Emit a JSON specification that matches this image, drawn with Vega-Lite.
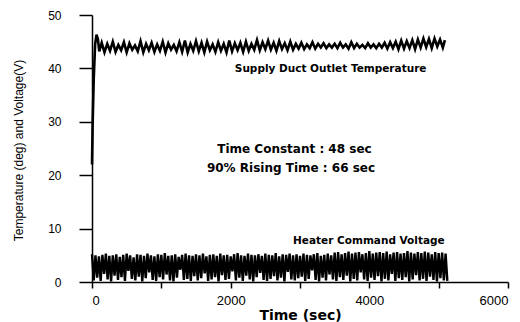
{
  "$schema": "https://vega.github.io/schema/vega-lite/v6.json",
  "width": 416,
  "height": 267,
  "autosize": "none",
  "padding": {"left": 92, "top": 15, "right": 12, "bottom": 40},
  "background": "white",
  "config": {
    "view": {"stroke": null},
    "font": "Liberation Sans",
    "axis": {"grid": false, "domainColor": "black", "tickColor": "black", "labelColor": "black", "titleColor": "black", "domainWidth": 1.5, "tickWidth": 1.5}
  },
  "datasets": {
    "volt": [
      {"t":0,"v":5.2},{"t":25,"v":0.3},{"t":50,"v":5.0},{"t":75,"v":0.8},{"t":100,"v":4.8},{"t":125,"v":0.2},{"t":150,"v":5.1},{"t":175,"v":1.5},{"t":200,"v":5.3},{"t":225,"v":0.5},
      {"t":250,"v":4.9},{"t":275,"v":0.1},{"t":300,"v":5.0},{"t":325,"v":1.2},{"t":350,"v":5.2},{"t":375,"v":0.4},{"t":400,"v":4.7},{"t":425,"v":0.9},{"t":450,"v":5.1},{"t":475,"v":0.2},
      {"t":500,"v":5.3},{"t":525,"v":2.1},{"t":550,"v":5.0},{"t":575,"v":0.6},{"t":600,"v":4.6},{"t":625,"v":0.3},{"t":650,"v":5.2},{"t":675,"v":1.0},{"t":700,"v":5.1},{"t":725,"v":0.1},
      {"t":750,"v":4.9},{"t":775,"v":0.7},{"t":800,"v":5.3},{"t":825,"v":1.8},{"t":850,"v":5.0},{"t":875,"v":0.4},{"t":900,"v":4.8},{"t":925,"v":0.2},{"t":950,"v":5.2},{"t":975,"v":0.9},
      {"t":1000,"v":5.1},{"t":1025,"v":0.5},{"t":1050,"v":5.4},{"t":1075,"v":1.4},{"t":1100,"v":4.9},{"t":1125,"v":0.3},{"t":1150,"v":5.0},{"t":1175,"v":0.1},{"t":1200,"v":5.2},{"t":1225,"v":0.8},
      {"t":1250,"v":4.7},{"t":1275,"v":2.3},{"t":1300,"v":5.1},{"t":1325,"v":0.4},{"t":1350,"v":5.3},{"t":1375,"v":0.6},{"t":1400,"v":5.0},{"t":1425,"v":0.2},{"t":1450,"v":4.9},{"t":1475,"v":1.1},
      {"t":1500,"v":5.2},{"t":1525,"v":0.3},{"t":1550,"v":5.0},{"t":1575,"v":0.7},{"t":1600,"v":5.3},{"t":1625,"v":1.6},{"t":1650,"v":4.8},{"t":1675,"v":0.2},{"t":1700,"v":5.1},{"t":1725,"v":0.5},
      {"t":1750,"v":5.2},{"t":1775,"v":0.9},{"t":1800,"v":4.9},{"t":1825,"v":0.1},{"t":1850,"v":5.3},{"t":1875,"v":1.3},{"t":1900,"v":5.0},{"t":1925,"v":0.4},{"t":1950,"v":5.1},{"t":1975,"v":0.6},
      {"t":2000,"v":4.8},{"t":2025,"v":2.0},{"t":2050,"v":5.2},{"t":2075,"v":0.3},{"t":2100,"v":5.4},{"t":2125,"v":0.8},{"t":2150,"v":5.0},{"t":2175,"v":0.2},{"t":2200,"v":4.9},{"t":2225,"v":1.2},
      {"t":2250,"v":5.3},{"t":2275,"v":0.5},{"t":2300,"v":5.1},{"t":2325,"v":0.1},{"t":2350,"v":5.0},{"t":2375,"v":0.9},{"t":2400,"v":5.2},{"t":2425,"v":1.7},{"t":2450,"v":4.9},{"t":2475,"v":0.4},
      {"t":2500,"v":5.3},{"t":2525,"v":0.2},{"t":2550,"v":5.1},{"t":2575,"v":0.6},{"t":2600,"v":5.0},{"t":2625,"v":1.1},{"t":2650,"v":5.4},{"t":2675,"v":0.3},{"t":2700,"v":4.8},{"t":2725,"v":0.8},
      {"t":2750,"v":5.2},{"t":2775,"v":0.1},{"t":2800,"v":5.1},{"t":2825,"v":1.9},{"t":2850,"v":5.3},{"t":2875,"v":0.5},{"t":2900,"v":5.0},{"t":2925,"v":0.3},{"t":2950,"v":5.2},{"t":2975,"v":0.7},
      {"t":3000,"v":4.9},{"t":3025,"v":1.0},{"t":3050,"v":5.3},{"t":3075,"v":0.2},{"t":3100,"v":5.1},{"t":3125,"v":0.6},{"t":3150,"v":5.0},{"t":3175,"v":2.2},{"t":3200,"v":5.2},{"t":3225,"v":0.4},
      {"t":3250,"v":5.4},{"t":3275,"v":0.1},{"t":3300,"v":4.9},{"t":3325,"v":0.8},{"t":3350,"v":5.1},{"t":3375,"v":0.3},{"t":3400,"v":5.3},{"t":3425,"v":1.4},{"t":3450,"v":5.0},{"t":3475,"v":0.5},
      {"t":3500,"v":5.5},{"t":3525,"v":0.2},{"t":3550,"v":5.6},{"t":3575,"v":0.9},{"t":3600,"v":5.2},{"t":3625,"v":0.4},{"t":3650,"v":5.4},{"t":3675,"v":1.2},{"t":3700,"v":5.7},{"t":3725,"v":0.1},
      {"t":3750,"v":5.3},{"t":3775,"v":0.6},{"t":3800,"v":5.5},{"t":3825,"v":0.3},{"t":3850,"v":5.6},{"t":3875,"v":1.8},{"t":3900,"v":5.2},{"t":3925,"v":0.5},{"t":3950,"v":5.4},{"t":3975,"v":0.2},
      {"t":4000,"v":5.8},{"t":4025,"v":0.8},{"t":4050,"v":5.3},{"t":4075,"v":0.4},{"t":4100,"v":5.5},{"t":4125,"v":1.1},{"t":4150,"v":5.6},{"t":4175,"v":0.1},{"t":4200,"v":5.4},{"t":4225,"v":0.6},
      {"t":4250,"v":5.7},{"t":4275,"v":0.3},{"t":4300,"v":5.2},{"t":4325,"v":1.5},{"t":4350,"v":5.5},{"t":4375,"v":0.2},{"t":4400,"v":5.6},{"t":4425,"v":0.7},{"t":4450,"v":5.3},{"t":4475,"v":0.4},
      {"t":4500,"v":5.4},{"t":4525,"v":0.9},{"t":4550,"v":5.8},{"t":4575,"v":0.1},{"t":4600,"v":5.5},{"t":4625,"v":0.5},{"t":4650,"v":5.3},{"t":4675,"v":1.3},{"t":4700,"v":5.6},{"t":4725,"v":0.3},
      {"t":4750,"v":5.4},{"t":4775,"v":0.6},{"t":4800,"v":5.7},{"t":4825,"v":0.2},{"t":4850,"v":5.5},{"t":4875,"v":1.0},{"t":4900,"v":5.2},{"t":4925,"v":0.4},{"t":4950,"v":5.6},{"t":4975,"v":0.1},
      {"t":5000,"v":5.4},{"t":5025,"v":0.7},{"t":5050,"v":5.5},{"t":5075,"v":0.3},{"t":5100,"v":5.3},{"t":5125,"v":0.2}
    ],
    "temp": [
      {"t":0,"v":22},{"t":10,"v":30},{"t":25,"v":38},{"t":45,"v":44.5},{"t":65,"v":46.3},{"t":85,"v":45.5},{"t":105,"v":43.2},
      {"t":140,"v":44.8},{"t":180,"v":43.0},{"t":220,"v":44.6},{"t":260,"v":43.3},{"t":300,"v":45.0},{"t":340,"v":43.1},{"t":380,"v":44.4},{"t":420,"v":43.4},{"t":460,"v":44.9},{"t":500,"v":43.0},
      {"t":540,"v":44.7},{"t":580,"v":43.5},{"t":620,"v":44.3},{"t":660,"v":43.2},{"t":700,"v":45.1},{"t":740,"v":43.0},{"t":780,"v":44.6},{"t":820,"v":43.4},{"t":860,"v":44.8},{"t":900,"v":43.1},
      {"t":940,"v":44.5},{"t":980,"v":43.3},{"t":1020,"v":45.0},{"t":1060,"v":43.0},{"t":1100,"v":44.7},{"t":1140,"v":43.5},{"t":1180,"v":44.4},{"t":1220,"v":43.2},{"t":1260,"v":44.9},{"t":1300,"v":43.1},
      {"t":1340,"v":45.2},{"t":1380,"v":43.0},{"t":1420,"v":44.6},{"t":1460,"v":43.3},{"t":1500,"v":45.1},{"t":1540,"v":43.2},{"t":1580,"v":44.8},{"t":1620,"v":43.0},{"t":1660,"v":45.0},{"t":1700,"v":43.4},
      {"t":1740,"v":44.5},{"t":1780,"v":43.1},{"t":1820,"v":44.9},{"t":1860,"v":43.3},{"t":1900,"v":44.6},{"t":1940,"v":43.0},{"t":1980,"v":45.2},{"t":2020,"v":43.2},{"t":2060,"v":44.7},{"t":2100,"v":43.4},
      {"t":2140,"v":44.8},{"t":2180,"v":43.1},{"t":2220,"v":45.0},{"t":2260,"v":43.3},{"t":2300,"v":44.6},{"t":2340,"v":43.5},{"t":2380,"v":45.3},{"t":2420,"v":43.4},{"t":2460,"v":44.9},{"t":2500,"v":43.6},
      {"t":2540,"v":45.2},{"t":2580,"v":43.5},{"t":2620,"v":44.8},{"t":2660,"v":43.3},{"t":2700,"v":45.1},{"t":2740,"v":43.6},{"t":2780,"v":44.7},{"t":2820,"v":43.4},{"t":2860,"v":45.0},{"t":2900,"v":43.5},
      {"t":2940,"v":44.6},{"t":2980,"v":43.7},{"t":3020,"v":44.8},{"t":3060,"v":43.6},{"t":3100,"v":44.5},{"t":3140,"v":43.8},{"t":3180,"v":44.9},{"t":3220,"v":43.7},{"t":3260,"v":44.6},{"t":3300,"v":43.9},
      {"t":3340,"v":44.7},{"t":3380,"v":43.8},{"t":3420,"v":44.5},{"t":3460,"v":43.9},{"t":3500,"v":44.6},{"t":3540,"v":43.8},{"t":3580,"v":44.8},{"t":3620,"v":43.9},{"t":3660,"v":44.5},{"t":3700,"v":43.7},
      {"t":3740,"v":44.9},{"t":3780,"v":43.8},{"t":3820,"v":44.6},{"t":3860,"v":43.9},{"t":3900,"v":44.4},{"t":3940,"v":43.8},{"t":3980,"v":44.7},{"t":4020,"v":43.9},{"t":4060,"v":44.5},{"t":4100,"v":43.8},
      {"t":4140,"v":44.6},{"t":4180,"v":43.9},{"t":4220,"v":44.8},{"t":4260,"v":43.7},{"t":4300,"v":44.9},{"t":4340,"v":43.8},{"t":4380,"v":45.0},{"t":4420,"v":43.6},{"t":4460,"v":45.2},{"t":4500,"v":43.7},
      {"t":4540,"v":45.1},{"t":4580,"v":43.8},{"t":4620,"v":45.3},{"t":4660,"v":43.6},{"t":4700,"v":45.4},{"t":4740,"v":43.9},{"t":4780,"v":45.6},{"t":4820,"v":44.0},{"t":4860,"v":45.5},{"t":4900,"v":43.8},
      {"t":4940,"v":45.6},{"t":4980,"v":44.1},{"t":5020,"v":45.4},{"t":5060,"v":43.9},{"t":5090,"v":45.3}
    ],
    "notes": [
      {"label": "Supply Duct Outlet Temperature"},
      {"label": "Heater Command Voltage"},
      {"label": "Time Constant : 48 sec"},
      {"label": "90% Rising Time : 66 sec"}
    ]
  },
  "layer": [
    {"data": {"name": "volt"}, "mark": {"type": "line", "color": "black", "strokeWidth": 2.4},
      "encoding": {
        "x": {"field": "t", "type": "quantitative",
          "scale": {"domain": [0, 6000], "nice": false, "zero": false},
          "axis": {"values": [0,1000,2000,3000,4000,5000,6000], "format": "d",
            "labelExpr": "datum.value % 2000 === 0 ? datum.label : ''",
            "labelFontSize": 13, "labelPadding": 6, "tickSize": 6,
            "title": "Time (sec)", "titleFont": "DejaVu Sans", "titleFontSize": 14, "titleFontWeight": "bold",
            "titlePadding": 1}},
        "y": {"field": "v", "type": "quantitative",
          "scale": {"domain": [0, 50], "nice": false},
          "axis": {"values": [0,5,10,15,20,25,30,35,40,45,50],
            "labelExpr": "datum.value % 10 === 0 ? datum.label : ''",
            "labelFontSize": 12, "labelPadding": 18,
            "tickSize": {"condition": {"test": "datum.value % 10 === 0", "value": 13}, "value": 6},
            "title": "Temperature (deg) and Voltage(V)", "titleFontSize": 12, "titleFontWeight": "normal",
            "titleX": -74, "titleY": 135, "titleBaseline": "middle"}}
      }},
    {"data": {"name": "temp"}, "mark": {"type": "line", "color": "black", "strokeWidth": 2.6},
      "encoding": {"x": {"field": "t", "type": "quantitative"}, "y": {"field": "v", "type": "quantitative"}}},
    {"data": {"name": "notes"}, "transform": [{"filter": "datum.label === 'Supply Duct Outlet Temperature'"}],
      "mark": {"type": "text", "font": "DejaVu Sans", "fontWeight": "bold", "fontSize": 10.5, "align": "left", "baseline": "middle", "color": "black"},
      "encoding": {"x": {"datum": 2060}, "y": {"datum": 39.9}, "text": {"field": "label"}}},
    {"data": {"name": "notes"}, "transform": [{"filter": "datum.label === 'Heater Command Voltage'"}],
      "mark": {"type": "text", "font": "DejaVu Sans", "fontWeight": "bold", "fontSize": 10.5, "align": "left", "baseline": "middle", "color": "black"},
      "encoding": {"x": {"datum": 2900}, "y": {"datum": 7.6}, "text": {"field": "label"}}},
    {"data": {"name": "notes"}, "transform": [{"filter": "datum.label === 'Time Constant : 48 sec'"}],
      "mark": {"type": "text", "font": "DejaVu Sans", "fontWeight": "bold", "fontSize": 12, "align": "center", "baseline": "middle", "color": "black"},
      "encoding": {"x": {"datum": 2920}, "y": {"datum": 24.9}, "text": {"field": "label"}}},
    {"data": {"name": "notes"}, "transform": [{"filter": "datum.label === '90% Rising Time : 66 sec'"}],
      "mark": {"type": "text", "font": "DejaVu Sans", "fontWeight": "bold", "fontSize": 12, "align": "center", "baseline": "middle", "color": "black"},
      "encoding": {"x": {"datum": 2870}, "y": {"datum": 21.3}, "text": {"field": "label"}}}
  ]
}
